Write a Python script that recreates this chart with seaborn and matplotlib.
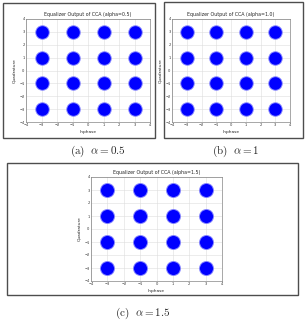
import pandas as pd
import seaborn as sns
import matplotlib.pyplot as plt
from matplotlib.patches import Rectangle

# 16-QAM constellation levels (cluster centres)
inphase_levels = [-3, -1, 1, 3]
quadrature_levels = [-3, -1, 1, 3]
alphas = ['0.5', '1.0', '1.5']
captions = ['$\\mathrm{(a)}\\ \\ \\alpha = 0.5$',
            '$\\mathrm{(b)}\\ \\ \\alpha = 1$',
            '$\\mathrm{(c)}\\ \\ \\alpha = 1.5$']
# apparent cluster size (marker area, pt^2) per panel
cluster_core = [82, 82, 88]
cluster_halo = [110, 110, 118]
axis_ticks = [-4, -3, -2, -1, 0, 1, 2, 3, 4]

W, H = 305, 322


def px_rect(x0, y0, x1, y1):
    return [x0 / W, 1 - y1 / H, (x1 - x0) / W, (y1 - y0) / H]


def draw_panel(ax, alpha_txt, core, halo):
    pts = pd.DataFrame(
        [(i, q) for q in quadrature_levels for i in inphase_levels],
        columns=['Inphase', 'Quadrature'])
    ax.grid(True, color='#dddddd', linewidth=0.4, zorder=0)
    sns.scatterplot(data=pts, x='Inphase', y='Quadrature', ax=ax, s=halo,
                    color='#0000ff', alpha=0.45, linewidth=0, zorder=2)
    sns.scatterplot(data=pts, x='Inphase', y='Quadrature', ax=ax, s=core,
                    color='#0000ff', linewidth=0, zorder=3)
    ax.set_xlim(-4, 4)
    ax.set_ylim(-4, 4)
    ax.set_xticks(axis_ticks)
    ax.set_yticks(axis_ticks)
    ax.tick_params(labelsize=2.6, length=1.2, width=0.3, pad=1,
                   direction='in', colors='#333333')
    ax.set_title(f'Equalizer Output of CCA (alpha={alpha_txt})',
                 fontsize=3.4, pad=2)
    ax.set_xlabel('Inphase', fontsize=3.2, labelpad=2)
    ax.set_ylabel('Quadrature', fontsize=3.2, labelpad=2)
    ax.set_axisbelow(True)
    for sp in ax.spines.values():
        sp.set_linewidth(0.4)
        sp.set_color('#666666')


sns.set_style('white')
plt.rcParams['font.family'] = ['DejaVu Sans']
plt.rcParams['mathtext.fontset'] = 'cm'

fig = plt.figure(figsize=(W / 100, H / 100), dpi=100)
fig.patch.set_facecolor('white')

# framed boxes around each sub-figure
for (x0, y0, x1, y1) in [(3, 3, 155, 138), (164, 2, 303, 138), (7, 163, 298, 295)]:
    fig.patches.append(Rectangle((x0 / W, 1 - y1 / H), (x1 - x0) / W, (y1 - y0) / H,
                                 transform=fig.transFigure, fill=False,
                                 edgecolor='#4d4d4d', linewidth=1.0))

axes = [fig.add_axes(px_rect(26, 19, 150, 122)),
        fig.add_axes(px_rect(172, 19, 290, 122)),
        fig.add_axes(px_rect(91, 177, 222, 281))]

for ax, a, c, h in zip(axes, alphas, cluster_core, cluster_halo):
    draw_panel(ax, a, c, h)

for cap, (cx, cy) in zip(captions, [(98, 151), (236, 151), (143, 313)]):
    fig.text(cx / W, 1 - cy / H, cap, ha='center', va='center', fontsize=8)

fig.savefig('out.png', dpi=100)
